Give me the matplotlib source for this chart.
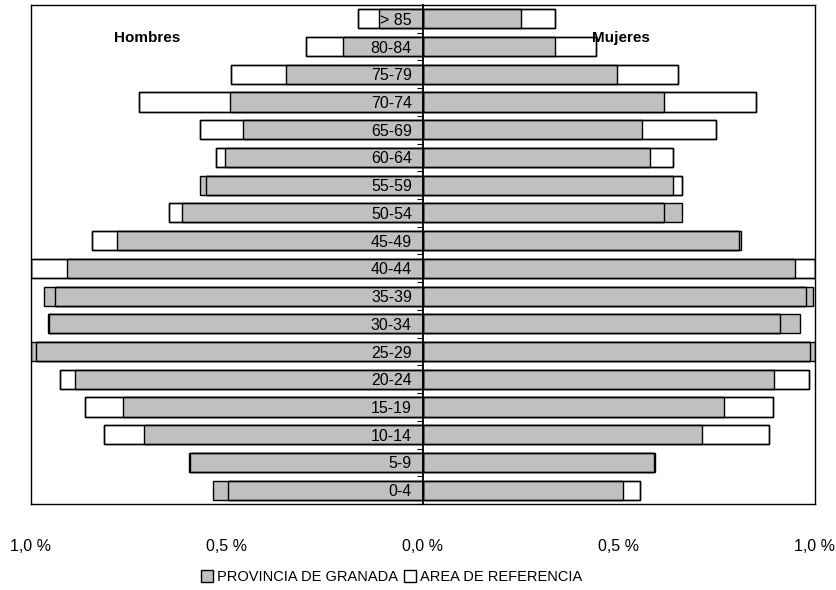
import matplotlib
matplotlib.use("Agg")
import matplotlib.pyplot as plt
from matplotlib.patches import Patch
from matplotlib.lines import Line2D
import matplotlib.font_manager as fm
import numpy as np

ages = ['0-4', '5-9', '10-14', '15-19', '20-24', '25-29', '30-34', '35-39', '40-44',
        '45-49', '50-54', '55-59', '60-64', '65-69', '70-74', '75-79', '80-84', '> 85']

male_prov = [0.535, 0.596, 0.713, 0.766, 0.888, 1.000, 0.957, 0.968, 0.907,
             0.781, 0.614, 0.569, 0.504, 0.458, 0.492, 0.349, 0.204, 0.113]
male_ref = [0.497, 0.594, 0.815, 0.861, 0.926, 0.986, 0.953, 0.938, 1.000,
            0.845, 0.648, 0.554, 0.527, 0.568, 0.724, 0.490, 0.299, 0.166]
female_prov = [0.509, 0.593, 0.711, 0.767, 0.896, 1.000, 0.961, 0.994, 0.950,
               0.812, 0.661, 0.639, 0.578, 0.559, 0.616, 0.494, 0.338, 0.251]
female_ref = [0.554, 0.590, 0.882, 0.892, 0.984, 0.988, 0.911, 0.977, 0.999,
              0.806, 0.616, 0.661, 0.639, 0.748, 0.849, 0.650, 0.441, 0.338]

xticks = [-1.0, -0.5, 0.0, 0.5, 1.0]
xticklabels = ['1,0 %', '0,5 %', '0,0 %', '0,5 %', '1,0 %']
series_names = ['PROVINCIA DE GRANADA', 'AREA DE REFERENCIA']

available = {f.name for f in fm.fontManager.ttflist}
narrow = 'Liberation Sans Narrow' if 'Liberation Sans Narrow' in available else 'Liberation Sans'
plt.rcParams['font.family'] = ['Liberation Sans', 'DejaVu Sans']

GREY = '#c0c0c0'
fig = plt.figure(figsize=(8.37, 5.90), dpi=100)
ax = fig.add_axes([31 / 837, 1 - 504 / 590, 784 / 837, 499 / 590])
ax.set_axisbelow(False)

y = np.arange(len(ages))
h = 0.69
mp = -np.array(male_prov)
mr = -np.array(male_ref)
fp = np.array(female_prov)
fr = np.array(female_ref)

for ref, prov in ((mr, mp), (fr, fp)):
    ax.barh(y, ref, height=h, color='white', edgecolor='black', linewidth=1.0, zorder=1)
    ax.barh(y, prov, height=h, color=GREY, edgecolor='black', linewidth=1.0, zorder=1.5)
    ax.barh(y, ref, height=h, fill=False, edgecolor='black', linewidth=1.0, zorder=2)

ax.set_xlim(-1.0, 1.0)
ax.set_ylim(-0.5, len(ages) - 0.5)

# center axis with age labels
ax.spines['left'].set_position(('data', 0))
ax.spines['left'].set_linewidth(1.3)
for s in ('top', 'right', 'bottom'):
    ax.spines[s].set_linewidth(1.0)
ax.add_line(Line2D([0, 0], [0, 1], transform=ax.transAxes, color='black', lw=1.0, clip_on=False))

ax.set_yticks(y)
ax.set_yticklabels(ages, fontsize=11.5)
ax.set_yticks(np.arange(len(ages) + 1) - 0.5, minor=True)
ax.tick_params(axis='y', which='major', length=0, pad=8)
ax.tick_params(axis='y', which='minor', length=4, width=0.8, direction='out')

ax.set_xticks(xticks)
ax.set_xticklabels(xticklabels, fontsize=11.5, family=[narrow, 'DejaVu Sans'])
ax.tick_params(axis='x', length=0, pad=25)

ax.text(-0.703, 0.934, 'Hombres', transform=ax.get_xaxis_transform(), fontsize=11,
        fontweight='bold', ha='center', va='center', zorder=6)
ax.text(0.506, 0.934, 'Mujeres', transform=ax.get_xaxis_transform(), fontsize=11,
        fontweight='bold', ha='center', va='center', zorder=6)

handles = [Patch(facecolor=GREY, edgecolor='black', linewidth=1.0),
           Patch(facecolor='white', edgecolor='black', linewidth=1.0)]
fig.legend(handles, series_names, loc='center', bbox_to_anchor=(392 / 837, 1 - 577 / 590),
           ncol=2, frameon=False, prop={'family': [narrow, 'DejaVu Sans'], 'size': 10.5},
           handlelength=0.8, handleheight=0.8, handletextpad=0.3, columnspacing=0.4)

fig.savefig('out.png', dpi=100, facecolor='white')
